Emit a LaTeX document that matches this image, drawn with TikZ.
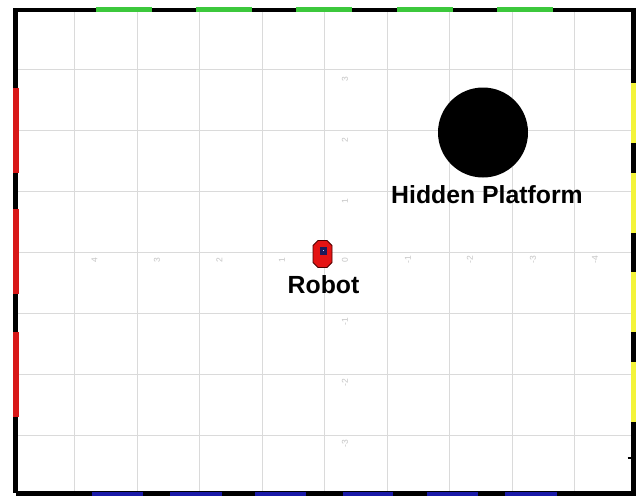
\documentclass[tikz,border=0pt]{standalone}
\usepackage{fontspec}
\setmainfont{Liberation Sans}
\definecolor{gridgray}{HTML}{DADADA}
\definecolor{lblgray}{HTML}{C4C4C4}
\definecolor{wallgreen}{HTML}{3CC83C}
\definecolor{wallred}{HTML}{D81818}
\definecolor{wallyellow}{HTML}{F4F43A}
\definecolor{wallblue}{HTML}{1A1AA8}
\definecolor{robotred}{HTML}{E41414}
\definecolor{robotnavy}{HTML}{1A1A5A}
\begin{document}
\begin{tikzpicture}[x=1pt,y=-1pt,
  gridline/.style={draw=gridgray,line width=0.9pt},
  axislbl/.style={text=lblgray,font=\fontsize{8.5}{9}\selectfont,rotate=90,inner sep=0pt},
  wall/.style={line width=5pt},
  biglbl/.style={font=\fontsize{24.8}{26}\selectfont\bfseries,inner sep=0pt,anchor=base}]
\useasboundingbox[fill=white] (0,0) rectangle (636,495);
% grid
\foreach \gx in {74.5,137,199.5,262,324.5,387,449.5,512,574.5}
  \draw[gridline] (\gx,12) -- (\gx,492);
\foreach \gy in {69.2,130.2,191.2,252.2,313.2,374.2,435.2}
  \draw[gridline] (17,\gy) -- (631,\gy);
% axis labels
\node[axislbl] (xl1) at (94.5,260) {4};
\node[axislbl] (xl2) at (157,260) {3};
\node[axislbl] (xl3) at (219.5,260) {2};
\node[axislbl] (xl4) at (282,260) {1};
\node[axislbl] (xl5) at (345,260) {0};
\node[axislbl] (xl6) at (408,260) {-1};
\node[axislbl] (xl7) at (470,260) {-2};
\node[axislbl] (xl8) at (533,260) {-3};
\node[axislbl] (xl9) at (595,260) {-4};
\node[axislbl] (yl1) at (345,79) {3};
\node[axislbl] (yl2) at (345,140) {2};
\node[axislbl] (yl3) at (345,201) {1};
\node[axislbl] (yl4) at (345,322) {-1};
\node[axislbl] (yl5) at (345,383) {-2};
\node[axislbl] (yl6) at (345,444) {-3};
% black border
\draw[line width=4.5pt,black] (15.5,493) -- (15.5,10) -- (633.5,10) -- (633.5,493.5) -- (15.5,493.5);
\draw[line width=1.2pt,black] (627.5,458) -- (631,458);
% green (top)
\foreach \a in {96,196,296,397,497}
  \draw[wall,wallgreen] (\a,9.5) -- ++(56,0);
% red (left)
\foreach \a in {88,209,332}
  \draw[line width=6pt,wallred] (16,\a) -- ++(0,85);
% yellow (right)
\foreach \a in {83,173,272,362}
  \draw[wall,wallyellow] (633.5,\a) -- ++(0,59.5);
% blue (bottom)
\foreach \a/\b in {92/143,170/222,255/306,343/393,427/478,505/557}
  \draw[line width=3.5pt,wallblue] (\a,494) -- (\b,494);
% hidden platform
\fill[black] (483,132.5) circle[radius=45];
\node[biglbl] (platlbl) at (487,203) {Hidden Platform};
% robot
\draw[fill=robotred,draw=black!70!red,line width=0.8pt]
  (318,240.5) -- (327,240.5) -- (332,245.5) -- (332,262.5) -- (327,267.5)
  -- (318,267.5) -- (313,262.5) -- (313,245.5) -- cycle;
\fill[robotnavy] (319.5,247) rectangle (326.5,255);
\fill[white!80!blue] (322.5,249.5) rectangle (324,251);
\node[biglbl] (robotlbl) at (323.5,293) {Robot};
\end{tikzpicture}
\end{document}
